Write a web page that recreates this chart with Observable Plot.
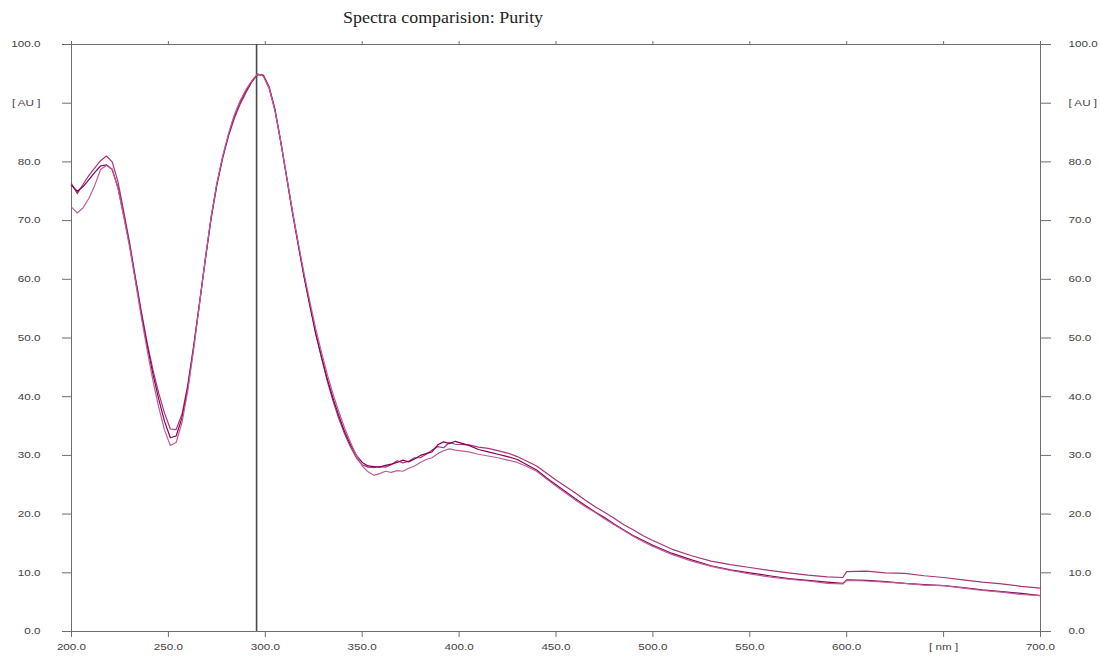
<!DOCTYPE html>
<html>
<head>
<meta charset="utf-8">
<script src="https://cdn.jsdelivr.net/npm/d3@7"></script>
<script src="https://cdn.jsdelivr.net/npm/@observablehq/plot@0.6"></script>
<style>
  html, body { margin: 0; padding: 0; background: #fff; }
  #wrap { position: relative; width: 1100px; height: 658px; }
  #title { position: absolute; left: 343px; top: 9px; font-family: "Liberation Serif", serif; font-size: 16px; color: #222; white-space: nowrap; transform: scaleX(1.12); transform-origin: left top; }
  #chart { position: absolute; left: 0; top: 0; }
</style>
</head>
<body>
<div id="wrap">
  <div id="chart"></div>
  <div id="title">Spectra comparision: Purity</div>
</div>
<script>
// Wavelengths (nm)
const nm = [200,203,206,209,212,215,218,221,224,227,230,233,236,239,242,245,248,251,254,257,260,263,266,269,272,275,278,281,284,287,290,293,296,299,302,305,308,311,314,317,320,323,326,329,332,335,338,341,344,347,350,353,356,359,362,365,368,371,374,377,380,383,386,389,392,395,398,
  405,410,415,420,425,430,435,440,445,450,455,460,465,470,475,480,485,490,495,500,
  510,520,530,540,550,560,570,580,590,598,600,610,620,630,640,650,660,670,680,690,700];

// Absorbance [AU] of the three compared spectra
const specA = [76.3,74.6,76.2,77.7,79.0,80.2,81.0,80.0,76.6,71.5,66.2,60.3,54.6,49.3,44.6,40.6,37.2,34.5,34.4,37.0,42.0,48.6,55.8,63.2,70.2,76.0,80.6,84.4,87.4,89.8,91.8,93.6,94.9,94.8,92.8,89.0,83.5,77.6,71.6,66.0,60.6,55.6,50.8,46.6,42.6,39.2,36.2,33.6,31.4,29.6,28.4,28.0,27.9,28.1,28.0,28.4,29.1,28.7,29.0,29.6,29.6,30.2,30.9,31.5,31.3,32.2,31.9,
  31.8,31.4,31.2,30.8,30.4,29.8,29.0,28.2,27.0,25.8,24.7,23.6,22.4,21.3,20.3,19.3,18.2,17.3,16.3,15.5,
  14.0,12.9,12.0,11.4,10.9,10.4,10.0,9.6,9.3,9.2,10.2,10.3,10.0,9.9,9.5,9.2,8.8,8.4,8.1,7.7,7.4];

const specB = [76.0,75.0,75.8,77.0,78.2,79.3,79.5,78.7,75.6,70.8,65.8,60.0,54.2,48.8,43.9,39.6,35.8,33.0,33.3,36.4,41.6,48.4,55.8,63.3,70.4,76.2,80.8,84.6,87.8,90.2,92.1,93.7,94.9,94.7,92.6,88.8,83.3,77.3,71.3,65.8,60.4,55.5,50.8,46.8,43.0,39.7,36.7,34.0,31.8,30.0,28.8,28.2,28.1,28.0,28.3,28.5,28.8,29.2,28.9,29.4,30.0,30.3,30.6,31.8,32.3,32.0,32.4,
  31.7,31.0,30.6,30.2,29.8,29.3,28.4,27.5,26.2,25.0,23.8,22.6,21.5,20.4,19.4,18.3,17.3,16.3,15.5,14.7,
  13.3,12.2,11.2,10.5,10.0,9.5,9.0,8.7,8.4,8.2,8.8,8.7,8.5,8.2,8.0,7.8,7.5,7.1,6.8,6.5,6.1];

const specC = [72.3,71.3,72.2,73.8,76.0,78.7,79.4,78.8,75.4,70.6,65.5,59.6,53.6,48.0,42.8,38.2,34.3,31.7,32.2,35.6,41.0,48.0,55.6,63.4,70.6,76.4,81.0,84.8,88.0,90.4,92.3,93.8,95.0,94.6,92.5,88.7,83.4,77.5,71.6,66.2,61.0,56.2,51.6,47.6,43.8,40.4,37.4,34.6,32.2,30.0,28.2,27.2,26.6,26.9,27.3,27.1,27.4,27.3,27.8,28.2,28.8,29.3,29.6,30.3,30.8,31.1,30.9,
  30.6,30.2,29.9,29.6,29.2,28.8,28.1,27.3,26.0,24.8,23.6,22.4,21.3,20.3,19.2,18.2,17.2,16.2,15.3,14.5,
  13.1,12.0,11.1,10.4,9.8,9.3,8.9,8.6,8.2,8.1,8.7,8.6,8.4,8.2,7.9,7.8,7.4,7.0,6.7,6.3,6.1];

const xTicks = [200,250,300,350,400,450,500,550,600,650,700];
const yTicks = [0,10,20,30,40,50,60,70,80,90,100];
const xUnitTick = 650, xUnitLabel = "[ nm ]";
const yUnitTick = 90, yUnitLabel = "[ AU ]";
const cursorNm = [295.5];

const seriesNames = ["Spectrum 1", "Spectrum 2", "Spectrum 3"];
const seriesColors = ["#a6367a", "#870055", "#bd5f99"];
const seriesData = [specA, specB, specC];

const rows = [];
seriesData.forEach((vals, s) => nm.forEach((x, i) => rows.push({nm: x, au: vals[i], s: seriesNames[s]})));

const fmtX = d => d === xUnitTick ? xUnitLabel : d.toFixed(1);
const fmtY = d => d === yUnitTick ? yUnitLabel : d.toFixed(1);
const axisCol = "#6e6e6e", labCol = "#444";

const chart = Plot.plot({
  width: 1100,
  height: 658,
  marginTop: 44,
  marginBottom: 27,
  marginLeft: 71,
  marginRight: 60,
  style: {fontFamily: "Liberation Sans, Arial, sans-serif", fontSize: "9px", background: "#fff"},
  x: {domain: [200, 700]},
  y: {domain: [0, 100]},
  color: {domain: seriesNames, range: seriesColors},
  marks: [
    Plot.frame({stroke: axisCol}),
    Plot.axisX({anchor: "bottom", ticks: xTicks, tickSize: 6, tickPadding: 6, tickFormat: fmtX, label: null, stroke: axisCol, fill: labCol}),
    Plot.axisX({anchor: "top", ticks: xTicks, tickSize: 4, tickFormat: () => "", label: null, stroke: axisCol}),
    Plot.axisY({anchor: "left", ticks: yTicks, tickSize: 9, tickPadding: 22, tickFormat: fmtY, label: null, stroke: axisCol, fill: labCol}),
    Plot.axisY({anchor: "right", ticks: yTicks, tickSize: 10, tickPadding: 18, tickFormat: fmtY, label: null, stroke: axisCol, fill: labCol}),
    Plot.ruleX(cursorNm, {stroke: "#4a4a4a", strokeWidth: 1.6}),
    Plot.line(rows, {x: "nm", y: "au", z: "s", stroke: "s", strokeWidth: 1.2})
  ]
});

document.getElementById("chart").appendChild(chart);

// horizontally widen tick labels like the reference instrument font
chart.querySelectorAll('g[aria-label$="tick label"] text').forEach(t => {
  const tr = t.getAttribute("transform") || "";
  t.setAttribute("transform", tr + " scale(1.3,1)");
});
</script>
</body>
</html>
